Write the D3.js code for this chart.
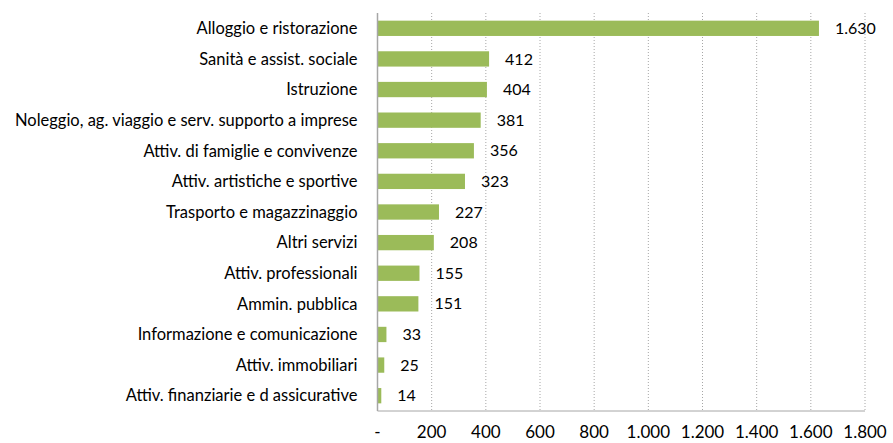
<!DOCTYPE html>
<html>
<head>
<meta charset="utf-8">
<script src="https://cdn.jsdelivr.net/npm/d3@7"></script>
<style>
  body { margin: 0; background: #fff; }
  text { font-family: Lato, "Open Sans", sans-serif; fill: #000; }
</style>
</head>
<body>
<svg id="chart" width="893" height="443"></svg>
<script>
var categories = ['Alloggio e ristorazione', 'Sanità e assist. sociale', 'Istruzione',
  'Noleggio, ag. viaggio e serv. supporto a imprese', 'Attiv. di famiglie e convivenze',
  'Attiv. artistiche e sportive', 'Trasporto e magazzinaggio', 'Altri servizi',
  'Attiv. professionali', 'Ammin. pubblica', 'Informazione e comunicazione',
  'Attiv. immobiliari', 'Attiv. finanziarie e d assicurative'];
var values = [1630, 412, 404, 381, 356, 323, 227, 208, 155, 151, 33, 25, 14];
var xTicks = [0, 200, 400, 600, 800, 1000, 1200, 1400, 1600, 1800];

var plotL = 377.5, plotR = 865, plotT = 13, plotB = 411;

var fmt = function(v) {
  if (v === 0) return '-';
  return d3.format(',')(v).replace(/,/g, '.');
};

var root = d3.select('#chart');

var x = d3.scaleLinear().domain([0, 1800]).range([plotL, plotR]);
var y = d3.scaleBand().domain(categories).range([plotT, plotB]).paddingInner(0.5).paddingOuter(0.25);

// gridlines
root.append('g')
    .selectAll('line')
    .data(xTicks.slice(1))
    .enter()
    .append('line')
    .attr('x1', function(d) { return x(d); })
    .attr('x2', function(d) { return x(d); })
    .attr('y1', plotT)
    .attr('y2', plotB)
    .attr('stroke', '#a6a6a6')
    .attr('stroke-width', 1)
    .attr('stroke-dasharray', '1,2');

// bars
root.append('g')
    .selectAll('rect')
    .data(values)
    .enter()
    .append('rect')
    .attr('x', x(0))
    .attr('y', function(d, i) { return y(categories[i]); })
    .attr('width', function(d) { return x(d) - x(0); })
    .attr('height', y.bandwidth())
    .attr('fill', '#9bbb59');

// value labels
root.append('g')
    .selectAll('text')
    .data(values)
    .enter()
    .append('text')
    .attr('x', function(d) { return x(d) + 16; })
    .attr('y', function(d, i) { return y(categories[i]) + y.bandwidth() / 2; })
    .attr('dy', '0.35em')
    .style('font-size', '16px')
    .text(function(d) { return fmt(d); });

// axis lines
root.append('line')
    .attr('x1', plotL).attr('x2', plotL)
    .attr('y1', plotT).attr('y2', plotB)
    .attr('stroke', '#a6a6a6').attr('stroke-width', 1.5);
root.append('line')
    .attr('x1', plotL).attr('x2', plotR)
    .attr('y1', plotB).attr('y2', plotB)
    .attr('stroke', '#a6a6a6').attr('stroke-width', 1);

// category labels
root.append('g')
    .selectAll('text')
    .data(categories)
    .enter()
    .append('text')
    .attr('x', plotL - 20)
    .attr('y', function(d) { return y(d) + y.bandwidth() / 2; })
    .attr('dy', '0.35em')
    .attr('text-anchor', 'end')
    .style('font-size', '16.5px')
    .text(function(d) { return d; });

// x tick labels
root.append('g')
    .selectAll('text')
    .data(xTicks)
    .enter()
    .append('text')
    .attr('x', function(d) { return x(d); })
    .attr('y', 432)
    .attr('dy', '0.35em')
    .attr('text-anchor', 'middle')
    .style('font-size', '17px')
    .text(function(d) { return fmt(d); });
</script>
</body>
</html>
